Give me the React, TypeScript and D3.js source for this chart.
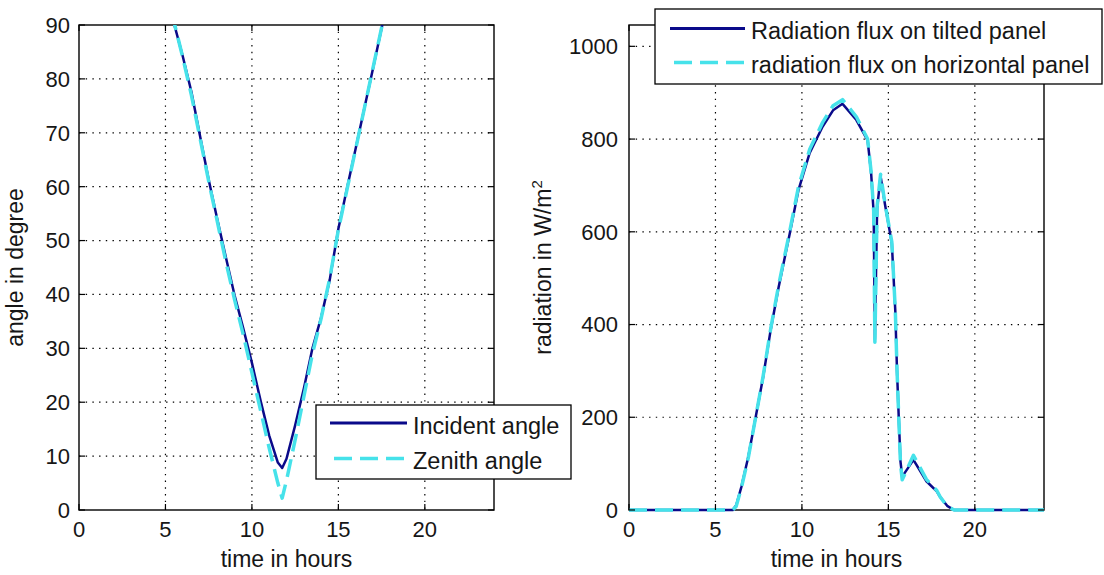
import React from 'react';
import * as d3 from 'd3';

// ---------- data ----------
const hourTicks = [0, 5, 10, 15, 20];
const angleTicks = [0, 10, 20, 30, 40, 50, 60, 70, 80, 90];
const fluxTicks = [0, 200, 400, 600, 800, 1000];

const angleHours = [5.0, 5.5, 6.0, 6.5, 7.0, 7.5, 8.0, 8.5, 9.0, 9.5, 10.0, 10.5, 11.0, 11.5, 11.75, 12.0, 12.5, 13.0, 13.5, 14.0, 14.5, 15.0, 15.5, 16.0, 16.5, 17.0, 17.5, 18.0];
const incidentAngle = [96.5, 90.2, 84.2, 77.6, 69.4, 61.3, 53.9, 46.8, 39.8, 33.7, 27.3, 20.3, 13.8, 8.8, 7.8, 9.5, 15.7, 22.5, 30.0, 35.7, 42.7, 52.2, 59.7, 67.1, 74.5, 81.9, 89.4, 96.8];
const zenithAngle = [97.0, 90.5, 84.0, 77.0, 69.0, 61.0, 53.5, 46.0, 39.0, 32.5, 25.5, 18.5, 11.5, 5.0, 2.2, 5.5, 13.0, 21.0, 29.0, 35.5, 43.0, 52.0, 59.5, 67.0, 74.5, 82.0, 89.5, 97.0];

const fluxHours = [0, 1, 2, 3, 4, 5, 6, 6.2, 6.5, 6.9, 7.3, 7.75, 8.2, 8.65, 9.3, 9.8, 10.45, 11.2, 11.8, 12.35, 13.15, 13.8, 14.0, 14.15, 14.22, 14.35, 14.55, 14.8, 15.2, 15.4, 15.5, 15.6, 15.7, 15.8, 16.45, 17.2, 17.8, 18.0, 18.4, 18.8, 19, 20, 21, 22, 23, 24];
const tiltedFlux = [0, 0, 0, 0, 0, 0, 0, 10, 50, 115, 195, 285, 390, 480, 597, 690, 770, 827, 862, 876, 841, 797, 728, 640, 368, 650, 720, 660, 575, 430, 300, 200, 105, 72, 108, 62, 40, 28, 9, 0, 0, 0, 0, 0, 0, 0];
const horizontalFlux = [0, 0, 0, 0, 0, 0, 0, 8, 48, 113, 195, 287, 392, 484, 602, 697, 778, 836, 872, 885, 848, 800, 730, 645, 362, 655, 724, 662, 578, 432, 302, 200, 100, 65, 118, 66, 42, 28, 8, 0, 0, 0, 0, 0, 0, 0];

// ---------- style ----------
const W = 1104;
const H = 575;
const NAVY = '#0a0a8a';
const CYAN = '#46e2ea';
const FONT = '"Liberation Sans", Arial, Helvetica, sans-serif';
const TXT = '#161616';

type PanelProps = {
  id: string;
  left: number;
  right: number;
  top: number;
  bottom: number;
  yMax: number;
  yTicks: number[];
  xs: number[];
  s1: number[];
  s2: number[];
  labelX: number;
  yLabel: React.ReactNode;
  tickGap: number;
};

function Panel(p: PanelProps) {
  const x = d3.scaleLinear().domain([0, 24]).range([p.left, p.right]);
  const y = d3.scaleLinear().domain([0, p.yMax]).range([p.bottom, p.top]);
  const line = (vals: number[]) =>
    d3
      .line<number>()
      .x((_, i) => x(p.xs[i]))
      .y((v) => y(v))(vals) as string;
  const tickLen = 6;
  return (
    <g>
      <defs>
        <clipPath id={p.id}>
          <rect x={p.left} y={p.top} width={p.right - p.left} height={p.bottom - p.top + 4} />
        </clipPath>
      </defs>
      <rect x={p.left} y={p.top} width={p.right - p.left} height={p.bottom - p.top} fill="#fff" />
      {/* grid */}
      {hourTicks
        .filter((t) => t > 0)
        .map((t) => (
          <line key={'gx' + t} x1={x(t)} x2={x(t)} y1={p.top} y2={p.bottom} stroke="#000" strokeWidth={1.2} strokeDasharray="1.4 5.3" />
        ))}
      {p.yTicks
        .filter((t) => t > 0 && y(t) > p.top + 1)
        .map((t) => (
          <line key={'gy' + t} x1={p.left} x2={p.right} y1={y(t)} y2={y(t)} stroke="#000" strokeWidth={1.2} strokeDasharray="1.4 5.3" />
        ))}
      {/* box */}
      <rect x={p.left} y={p.top} width={p.right - p.left} height={p.bottom - p.top} fill="none" stroke="#000" strokeWidth={1.4} />
      {/* series */}
      <g clipPath={`url(#${p.id})`}>
        <path d={line(p.s1)} fill="none" stroke={NAVY} strokeWidth={2.5} strokeLinejoin="round" />
        <path d={line(p.s2)} fill="none" stroke={CYAN} strokeWidth={3.5} strokeDasharray="18 8" strokeLinejoin="round" />
      </g>
      {/* ticks */}
      {hourTicks.map((t) => (
        <g key={'tx' + t}>
          <line x1={x(t)} x2={x(t)} y1={p.bottom} y2={p.bottom - tickLen} stroke="#000" strokeWidth={1.2} />
          <line x1={x(t)} x2={x(t)} y1={p.top} y2={p.top + tickLen} stroke="#000" strokeWidth={1.2} />
          <text x={x(t)} y={537} textAnchor="middle" fontSize={22} fontFamily={FONT} fill={TXT}>
            {t}
          </text>
        </g>
      ))}
      {p.yTicks.map((t) => (
        <g key={'ty' + t}>
          <line x1={p.left} x2={p.left + tickLen} y1={y(t)} y2={y(t)} stroke="#000" strokeWidth={1.2} />
          <line x1={p.right} x2={p.right - tickLen} y1={y(t)} y2={y(t)} stroke="#000" strokeWidth={1.2} />
          <text x={p.left - p.tickGap} y={y(t)} dy="0.36em" textAnchor="end" fontSize={22} fontFamily={FONT} fill={TXT}>
            {t}
          </text>
        </g>
      ))}
      {/* labels */}
      <text x={(p.left + p.right) / 2} y={567} textAnchor="middle" fontSize={23} fontFamily={FONT} fill={TXT}>
        time in hours
      </text>
      <text
        transform={`translate(${p.labelX},${(p.top + p.bottom) / 2}) rotate(-90)`}
        textAnchor="middle"
        fontSize={23}
        fontFamily={FONT}
        fill={TXT}
      >
        {p.yLabel}
      </text>
    </g>
  );
}

type LegendProps = {
  x: number;
  y: number;
  w: number;
  h: number;
  lineX1: number;
  lineX2: number;
  rows: number[];
  labels: string[];
};

function Legend(l: LegendProps) {
  return (
    <g>
      <rect x={l.x} y={l.y} width={l.w} height={l.h} fill="#fff" stroke="#000" strokeWidth={1.3} />
      <line x1={l.lineX1} x2={l.lineX2} y1={l.rows[0]} y2={l.rows[0]} stroke={NAVY} strokeWidth={3} />
      <line x1={l.lineX1} x2={l.lineX2} y1={l.rows[1]} y2={l.rows[1]} stroke={CYAN} strokeWidth={3.5} strokeDasharray="18 8" strokeDashoffset={-4} />
      {l.labels.map((s, i) => (
        <text key={s} x={l.lineX2 + 6} y={l.rows[i] + 10.5} fontSize={23.5} fontFamily={FONT} fill={TXT}>
          {s}
        </text>
      ))}
    </g>
  );
}

export default function App() {
  return (
    <svg width={W} height={H} style={{ position: 'absolute', left: 0, top: 0, background: '#fff' }}>
      <rect x={0} y={0} width={W} height={H} fill="#fff" />
      <Panel
        id="clipL"
        left={79}
        right={494}
        top={25}
        bottom={510}
        yMax={90}
        yTicks={angleTicks}
        xs={angleHours}
        s1={incidentAngle}
        s2={zenithAngle}
        labelX={23}
        yLabel="angle in degree"
        tickGap={9}
      />
      <Panel
        id="clipR"
        left={629}
        right={1044}
        top={25}
        bottom={510}
        yMax={1046}
        yTicks={fluxTicks}
        xs={fluxHours}
        s1={tiltedFlux}
        s2={horizontalFlux}
        labelX={551}
        yLabel={
          <>
            radiation in W/m
            <tspan fontSize={15} dy={-9}>
              2
            </tspan>
          </>
        }
        tickGap={11}
      />
      <Legend
        x={316}
        y={405}
        w={255}
        h={74}
        lineX1={330}
        lineX2={407}
        rows={[423, 458.5]}
        labels={['Incident angle', 'Zenith angle']}
      />
      <Legend
        x={655}
        y={9}
        w={447}
        h={75}
        lineX1={670}
        lineX2={745}
        rows={[28.5, 62.5]}
        labels={['Radiation flux on tilted panel', 'radiation flux on horizontal panel']}
      />
    </svg>
  );
}
